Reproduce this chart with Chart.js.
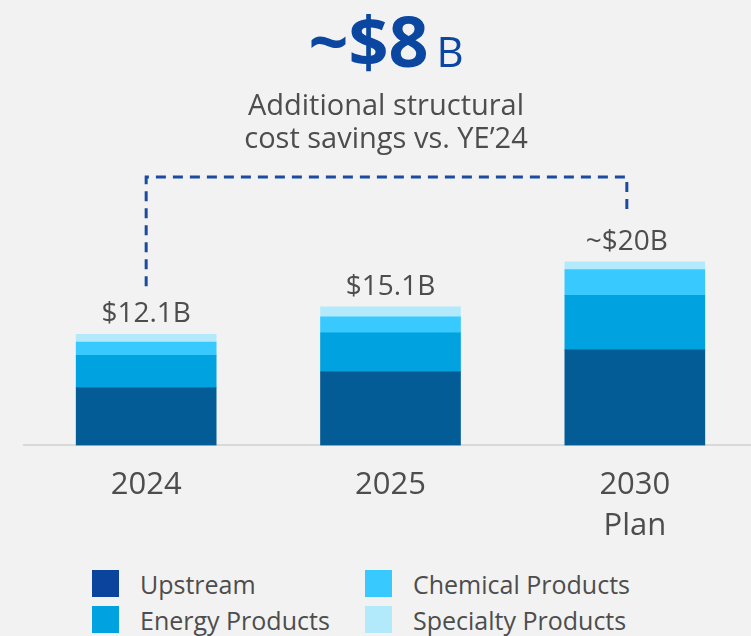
<!DOCTYPE html>
<html>
<head>
<meta charset="utf-8">
<script src="https://cdn.jsdelivr.net/npm/chart.js@4.4.1/dist/chart.umd.min.js"></script>
<style>
  body {
    margin: 0;
    width: 751px;
    height: 636px;
    overflow: hidden;
    background: #f2f2f2;
    font-family: "Open Sans", sans-serif;
    color: #4d4d4d;
    position: relative;
  }
  #savingsChart { position: absolute; left: 0; top: 0; }
  #legend {
    position: absolute;
    left: 92px;
    top: 570px;
    display: grid;
    grid-template-columns: 273px auto;
    grid-template-rows: 27px 27px;
    row-gap: 9px;
    grid-auto-flow: column;
  }
  .item { display: flex; align-items: center; font-size: 25px; }
  .swatch { width: 27px; height: 27px; margin-right: 21px; flex: none; }
</style>
</head>
<body>
<canvas id="savingsChart" width="757" height="566"></canvas>
<div id="legend"></div>
<script>
// Structural cost savings by business line, $B
const years = ["2024", "2025", ["2030", "Plan"]];
const upstream = [6.3, 8.05, 10.4];
const energyProducts = [3.5, 4.2, 5.95];
const chemicalProducts = [1.45, 1.75, 2.8];
const specialtyProducts = [0.85, 1.1, 0.85];
const totalLabels = ["$12.1B", "$15.1B", "~$20B"];

const seriesNames = ["Upstream", "Energy Products", "Chemical Products", "Specialty Products"];
const seriesColors = ["#035c96", "#00a3e0", "#38c9ff", "#b2eafc"];
const legendColors = ["#0b449d", "#00a3e0", "#38c9ff", "#b2eafc"];

const TEXT = "#4d4d4d";
const BLUE = "#0b47a1";
const FONT = '"Open Sans", sans-serif';

// x position of a total label: a leading "~" hangs left of the centred figure
function labelCenter(ctx, text, x) {
  if (text.startsWith("~")) return x - ctx.measureText("~").width / 2;
  return x;
}

const headlinePlugin = {
  id: "headline",
  afterDraw(chart) {
    const ctx = chart.ctx;
    const cx = 386;
    ctx.save();
    ctx.textBaseline = "alphabetic";
    ctx.fillStyle = BLUE;
    ctx.font = "bold 70px " + FONT;
    const big = "~$8";
    const w1 = ctx.measureText(big).width;
    ctx.font = "42px " + FONT;
    const w2 = ctx.measureText("B").width;
    const gap = 8;
    const x0 = cx - (w1 + gap + w2) / 2;
    ctx.textAlign = "left";
    ctx.font = "bold 70px " + FONT;
    ctx.fillText(big, x0, 67);
    ctx.font = "42px " + FONT;
    ctx.fillText("B", x0 + w1 + gap, 67);

    ctx.fillStyle = TEXT;
    ctx.textAlign = "center";
    ctx.font = "29px " + FONT;
    ctx.fillText("Additional structural", cx, 115);
    ctx.fillText("cost savings vs. YE\u201924", cx, 148);
    ctx.restore();
  }
};

const totalsPlugin = {
  id: "totals",
  afterDatasetsDraw(chart) {
    const ctx = chart.ctx;
    const top = chart.getDatasetMeta(chart.data.datasets.length - 1).data;
    ctx.save();
    ctx.font = "28px " + FONT;
    ctx.fillStyle = TEXT;
    ctx.textAlign = "center";
    ctx.textBaseline = "alphabetic";
    const anchors = [];
    top.forEach((bar, i) => {
      const text = totalLabels[i];
      const x = labelCenter(ctx, text, bar.x);
      const base = bar.y - 12;
      ctx.fillText(text, x, base);
      anchors.push({ x: x, y: base - 20 });
    });

    // dashed bracket from the first total to the plan total
    const a = anchors[0];
    const b = anchors[anchors.length - 1];
    const bracketY = 177;
    ctx.strokeStyle = "#1a4ba0";
    ctx.lineWidth = 3;
    ctx.setLineDash([10, 7]);
    ctx.beginPath();
    ctx.moveTo(a.x, a.y - 16);
    ctx.lineTo(a.x, bracketY);
    ctx.lineTo(b.x, bracketY);
    ctx.lineTo(b.x, b.y - 18);
    ctx.stroke();
    ctx.restore();
  }
};

const seriesData = [upstream, energyProducts, chemicalProducts, specialtyProducts];

const chart = new Chart(document.getElementById("savingsChart"), {
  type: "bar",
  data: {
    labels: years,
    datasets: seriesData.map((values, i) => ({
      label: seriesNames[i],
      data: values,
      backgroundColor: seriesColors[i],
      borderWidth: 0,
      barThickness: 140
    }))
  },
  options: {
    responsive: false,
    animation: false,
    layout: { padding: { left: 24, right: 0, top: 0, bottom: 0 } },
    plugins: {
      legend: { display: false },
      tooltip: { enabled: false }
    },
    scales: {
      x: {
        stacked: true,
        grid: { display: false, drawTicks: false },
        border: { display: true, color: "#d9d9d9", width: 2 },
        ticks: {
          color: TEXT,
          padding: 20,
          font: { family: FONT, size: 31, lineHeight: 1.3 }
        }
      },
      y: {
        stacked: true,
        display: false,
        min: 0,
        max: 48.5
      }
    }
  },
  plugins: [headlinePlugin, totalsPlugin]
});

// legend laid out in two columns, filled top to bottom
const legend = document.getElementById("legend");
seriesNames.forEach((name, i) => {
  const item = document.createElement("div");
  item.className = "item";
  const sw = document.createElement("span");
  sw.className = "swatch";
  sw.style.background = legendColors[i];
  item.appendChild(sw);
  item.appendChild(document.createTextNode(name));
  legend.appendChild(item);
});
</script>
</body>
</html>
